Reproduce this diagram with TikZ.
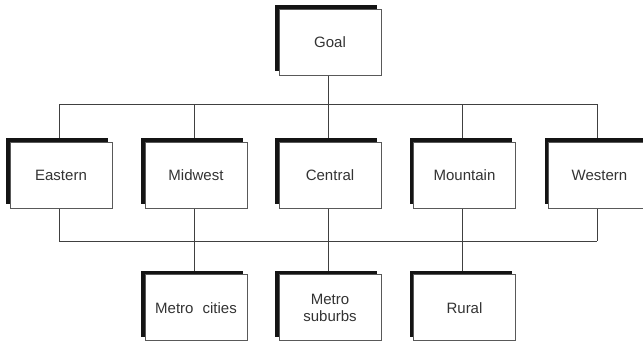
\documentclass[tikz,border=0pt]{standalone}
\usepackage{fontspec}
\setmainfont{Liberation Sans}
\begin{document}
\begin{tikzpicture}[x=1pt,y=-1pt,
  conn/.style={draw=black!75, line width=0.8pt},
  box/.style={draw=black!65, line width=0.7pt, fill=white, minimum width=102pt, minimum height=66pt, inner sep=0pt,
    text=black!80, font=\fontsize{15}{17}\selectfont, align=center,
    append after command={}},
  shadow/.style={fill=black!92, draw=none, minimum width=102pt, minimum height=66pt, inner sep=0pt}
]
\useasboundingbox (0,0) rectangle (643,343);
% shadows
\foreach \n/\x/\y in {g/330/42, e/61/175, m/196/175, c/330/175, mo/464.5/175, w/599.5/175, mc/196/307.7, ms/330/307.7, r/464.5/307.7}{
  \node[shadow] (s\n) at (\x-4,\y-4) {};
}
% connectors
\coordinate (tl) at (59,104);
\coordinate (tr) at (597,104);
\coordinate (bl) at (59,241);
\coordinate (br) at (597,241);
\draw[conn] (tl) -- (tr);
\draw[conn] (bl) -- (br);
\draw[conn] ([xshift=2pt]sg.south) -- ([xshift=2pt]sg.south |- tl);
\foreach \n in {e,m,c,mo,w}{
  \draw[conn] ([xshift=2pt]s\n.north) -- ([xshift=2pt]s\n.north |- tl);
}
\draw[conn] ([xshift=2pt]se.south) -- ([xshift=2pt]se.south |- bl);
\draw[conn] ([xshift=2pt]sw.south) -- ([xshift=2pt]sw.south |- bl);
\draw[conn] ([xshift=2pt]sm.south) -- ([xshift=2pt]smc.north);
\draw[conn] ([xshift=2pt]sc.south) -- ([xshift=2pt]sms.north);
\draw[conn] ([xshift=2pt]smo.south) -- ([xshift=2pt]sr.north);
% shadows drawn again on top of lines
\foreach \n/\x/\y in {g/330/42, e/61/175, m/196/175, c/330/175, mo/464.5/175, w/599.5/175, mc/196/307.7, ms/330/307.7, r/464.5/307.7}{
  \fill[black!92] (\x-55,\y-37) rectangle (\x+47,\y+29);
}
% boxes
\node[box] (g) at (330,42) {Goal};
\node[box] (e) at (61,175) {Eastern};
\node[box] (m) at (196,175) {Midwest};
\node[box] (c) at (330,175) {Central};
\node[box] (mo) at (464.5,175) {Mountain};
\node[box] (w) at (599.5,175) {Western};
\node[box] (mc) at (196,307.7) {Metro\hspace{0.6em}cities};
\node[box] (ms) at (330,307.7) {Metro\\suburbs};
\node[box] (r) at (464.5,307.7) {Rural};
\end{tikzpicture}
\end{document}
